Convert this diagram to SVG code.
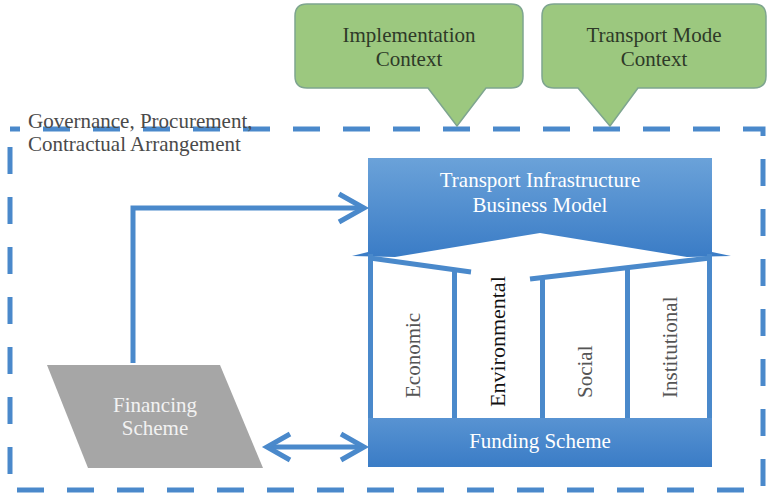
<svg xmlns="http://www.w3.org/2000/svg" width="767" height="498" viewBox="0 0 767 498">
<defs>
<linearGradient id="gBlue" x1="0" y1="0" x2="0" y2="1">
<stop offset="0" stop-color="#6ba2d9"/>
<stop offset="1" stop-color="#3a7cc6"/>
</linearGradient>
<linearGradient id="gBlue2" x1="0" y1="0" x2="0" y2="1">
<stop offset="0" stop-color="#5893d2"/>
<stop offset="1" stop-color="#3a7cc6"/>
</linearGradient>
<style>
text{font-family:"Liberation Serif","Times New Roman",serif;font-size:21px}
.call{fill:#9cc87f;stroke:#7ea58f;stroke-width:1.5}
.ct{fill:#2e3a28;text-anchor:middle}
.wt{fill:#ffffff;text-anchor:middle}
.col{fill:#555555}
.env{fill:#111111;font-size:22px}
.ln{fill:none;stroke:#4a89cb;stroke-width:5;stroke-linejoin:miter}
.pil{fill:#4a89cb}
</style>
</defs>
<rect width="767" height="498" fill="#ffffff"/>

<g id="boundary">
<rect x="10" y="129" width="753" height="361" fill="none" stroke="#4a89cb" stroke-width="5" stroke-dasharray="27 23" stroke-dashoffset="17"/>
<text x="28" y="128" fill="#4a4a4a">Governance, Procurement,</text>
<text x="28" y="151" fill="#4a4a4a">Contractual Arrangement</text>
</g>

<g id="implementation-context">
<path class="call" d="M307,4 H511 Q523,4 523,16 V76 Q523,88 511,88 H486 L457,126 L428,88 H307 Q295,88 295,76 V16 Q295,4 307,4 Z"/>
<text class="ct" x="409" y="42">Implementation</text>
<text class="ct" x="409" y="66">Context</text>
</g>

<g id="transport-mode-context">
<path class="call" d="M554,4 H754 Q766,4 766,16 V76 Q766,88 754,88 H638 L610,126 L578,88 H554 Q542,88 542,76 V16 Q542,4 554,4 Z"/>
<text class="ct" x="654" y="42">Transport Mode</text>
<text class="ct" x="654" y="66">Context</text>
</g>

<g id="business-model">
<polygon fill="url(#gBlue)" points="368,158 712,158 712,252 731,256 687,257 540,233 395,257 352,256 368,252"/>
<text class="wt" x="540" y="187">Transport Infrastructure</text>
<text class="wt" x="540" y="212">Business Model</text>
<line class="ln" x1="370" y1="258" x2="471" y2="272" stroke-width="4"/>
<line class="ln" x1="710" y1="258" x2="530" y2="279" stroke-width="4"/>
<rect class="pil" x="368" y="254" width="5" height="166"/>
<rect class="pil" x="452" y="270" width="5" height="150"/>
<rect class="pil" x="540" y="277" width="5" height="143"/>
<rect class="pil" x="625" y="266" width="5" height="154"/>
<rect class="pil" x="707" y="254" width="5" height="166"/>
</g>

<g id="economic">
<text class="col" transform="translate(420,398) rotate(-90)">Economic</text>
</g>
<g id="environmental">
<text class="env" transform="translate(505,407) rotate(-90)">Environmental</text>
</g>
<g id="social">
<text class="col" transform="translate(592,398) rotate(-90)">Social</text>
</g>
<g id="institutional">
<text class="col" transform="translate(677,398) rotate(-90)">Institutional</text>
</g>

<g id="funding-scheme">
<rect x="368" y="418" width="344" height="49" fill="url(#gBlue2)"/>
<text class="wt" x="540" y="448">Funding Scheme</text>
</g>

<g id="financing-scheme">
<polygon points="47,365 220,365 263,468 88,468" fill="#a6a6a6"/>
<text x="155" y="412" fill="#f2f2f2" text-anchor="middle">Financing</text>
<text x="155" y="435" fill="#f2f2f2" text-anchor="middle">Scheme</text>
</g>

<g id="connectors">
<polyline class="ln" points="133,363 133,208 364,208"/>
<polyline class="ln" points="339,194 364,208 339,222"/>
<line class="ln" x1="267" y1="447" x2="364" y2="447"/>
<polyline class="ln" points="290,434 267,447 290,460"/>
<polyline class="ln" points="341,434 364,447 341,460"/>
</g>
</svg>
